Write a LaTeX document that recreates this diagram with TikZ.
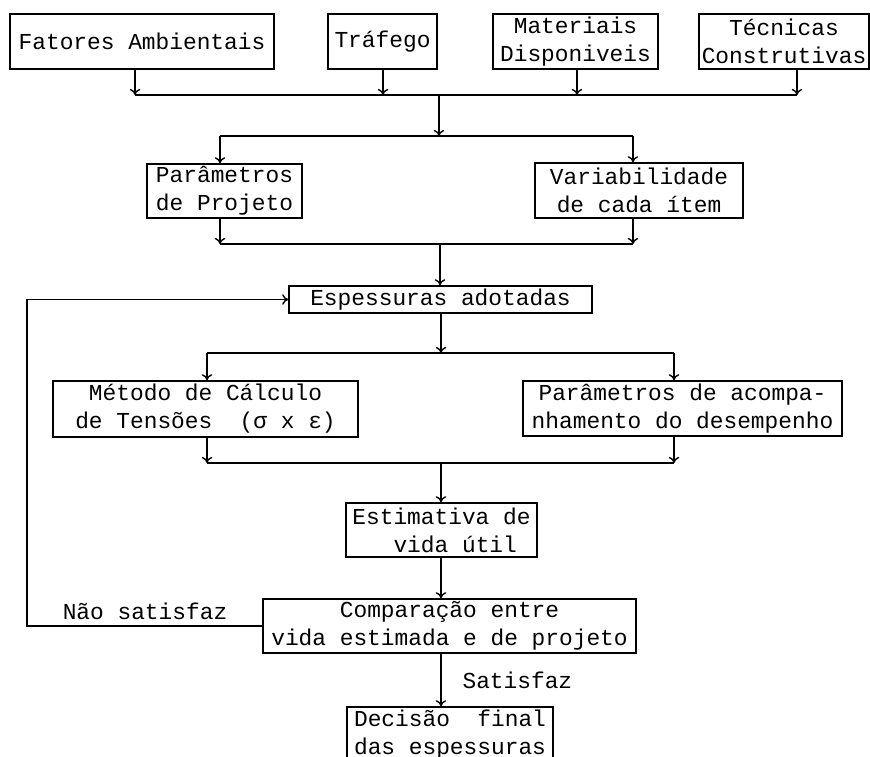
\documentclass[tikz,border=0pt]{standalone}
\usepackage{fontspec}
\setmonofont{Liberation Mono}
\usetikzlibrary{arrows.meta}
\begin{document}
\begin{tikzpicture}[x=0.02cm,y=-0.02cm,line width=0.8pt,>={To[length=3.5pt,width=6pt]},
  every node/.style={font=\ttfamily\fontsize{13}{16}\selectfont},
  caixa/.style={draw,align=center,inner sep=1pt,minimum height=1.1cm}]
\clip (0,0) rectangle (870,757);
\node [caixa,minimum width=5.28cm] (fat) at (142,41.5) {Fatores Ambientais};
\node [caixa,minimum width=2.18cm] (traf) at (382.5,41.5) {Tráfego};
\node [caixa,minimum width=3.3cm] (mat) at (575.5,41.5) {Materiais\\Disponiveis};
\node [caixa,minimum width=3.4cm] (tec) at (784,41.5) {Técnicas\\Construtivas};
\node [caixa,minimum width=3.1cm,minimum height=1.08cm] (parp) at (224.5,191) {Parâmetros\\de Projeto};
\node [caixa,minimum width=4.16cm] (var) at (639,190.5) {Variabilidade\\de cada ítem};
\node [caixa,minimum width=6.06cm,minimum height=0.54cm] (esp) at (440.5,299.5) {Espessuras adotadas};
\node [caixa,minimum width=6.1cm,minimum height=1.12cm] (met) at (205.5,409) {Método de Cálculo\\de Tensões~~(σ~x~ε)};
\node [caixa,minimum width=6.38cm] (acomp) at (682.5,408.5) {Parâmetros de acompa-\\nhamento do desempenho};
\node [caixa,minimum width=3.82cm,minimum height=1.08cm] (est) at (441.5,530) {Estimativa de\\~~vida útil};
\node [caixa,minimum width=7.46cm,minimum height=1.08cm] (comp) at (449.5,626) {Comparação entre\\vida estimada e de projeto};
\node [caixa,minimum width=4.12cm] (dec) at (450,734.5) {Decisão~~final\\das espessuras};
\coordinate (j1) at (135,95);
\coordinate (j2) at (383,95);
\coordinate (j3) at (577,95);
\coordinate (j4) at (797,95);
\coordinate (j0) at (439,95);
\coordinate (k0) at (439,136);
\coordinate (k1) at (220,136);
\coordinate (k2) at (633,136);
\coordinate (m0) at (440,244);
\coordinate (m1) at (220,244);
\coordinate (m2) at (633,244);
\coordinate (n0) at (441,353);
\coordinate (n1) at (207,353);
\coordinate (n2) at (674,353);
\coordinate (p0) at (441,463);
\coordinate (p1) at (207,463);
\coordinate (p2) at (674,463);
\coordinate (q1) at (27,626);
\draw [->] (fat.south -| j1) -- (j1);
\draw [->] (traf.south -| j2) -- (j2);
\draw [->] (mat.south -| j3) -- (j3);
\draw [->] (tec.south -| j4) -- (j4);
\draw (j1) -- (j4);
\draw [->] (j0) -- (k0);
\draw (k1) -- (k2);
\draw [->] (k1) -- (k1 |- parp.north);
\draw [->] (k2) -- (k2 |- var.north);
\draw [->] (parp.south -| m1) -- (m1);
\draw [->] (var.south -| m2) -- (m2);
\draw (m1) -- (m2);
\draw [->] (m0) -- (m0 |- esp.north);
\draw [->] (esp.south -| n0) -- (n0);
\draw (n1) -- (n2);
\draw [->] (n1) -- (n1 |- met.north);
\draw [->] (n2) -- (n2 |- acomp.north);
\draw [->] (met.south -| p1) -- (p1);
\draw [->] (acomp.south -| p2) -- (p2);
\draw (p1) -- (p2);
\draw [->] (p0) -- (p0 |- est.north);
\draw [->] (est.south -| p0) -- (p0 |- comp.north);
\draw [->] (comp.south -| p0) -- (p0 |- dec.north) node (sat) [midway,right=0.3cm] {Satisfaz};
\draw [->] (comp.west) -- (q1) |- (esp.west);
\node (nao) at (145,611) {Não satisfaz};
\end{tikzpicture}
\end{document}
